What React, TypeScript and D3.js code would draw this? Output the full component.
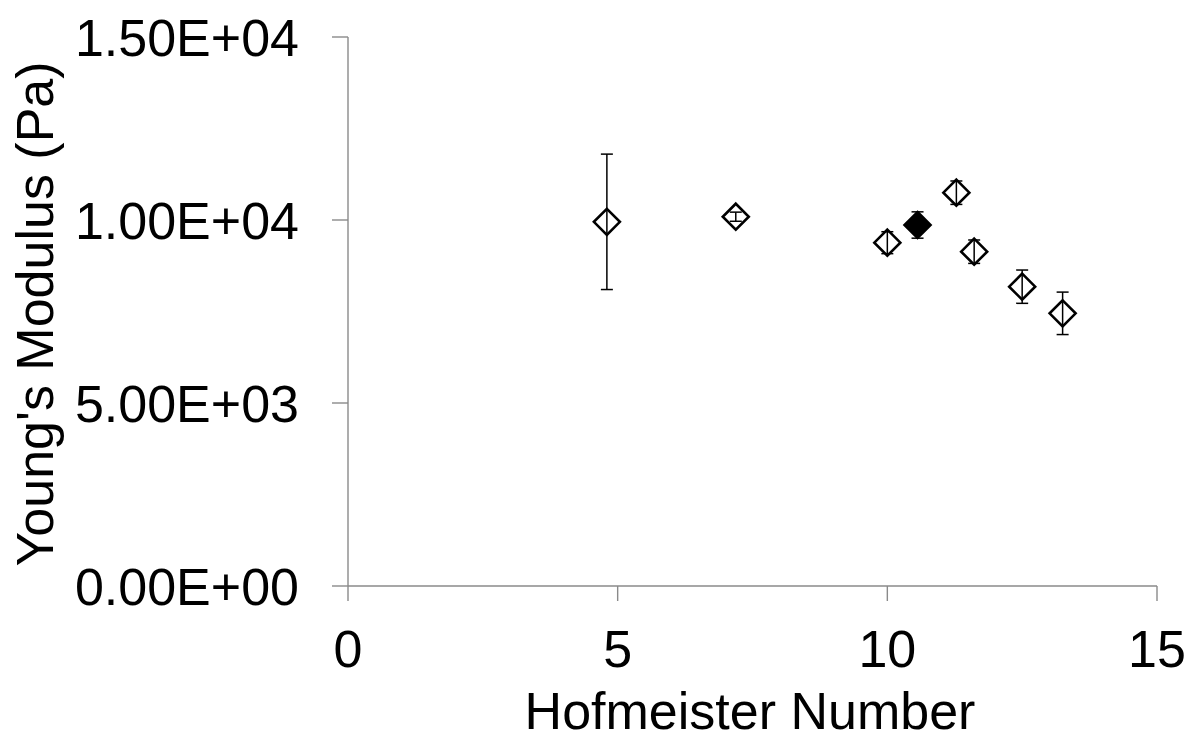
import React from "react";
import * as d3 from "d3";

// Hofmeister number vs. Young's modulus, open diamonds with one filled point
const hofmeister = [4.8, 7.19, 10.0, 11.28, 11.61, 12.5, 13.25];
const modulus = [9950, 10090, 9380, 10746, 9134, 8178, 7450];
const modulusErr = [1850, 125, 300, 320, 320, 455, 580];

const filledHofmeister = [10.56];
const filledModulus = [9863];
const filledErr = [360];

const xTicks = [0, 5, 10, 15];
const yTicks = [0, 5000, 10000, 15000];
const yTickLabels = ["0.00E+00", "5.00E+03", "1.00E+04", "1.50E+04"];

const W = 1191;
const H = 740;
const FONT = "'Liberation Sans', Arial, sans-serif";
const FS = 52;

export default function App() {
  const x = d3.scaleLinear().domain([0, 15]).range([348, 1157]);
  const y = d3.scaleLinear().domain([0, 15000]).range([586, 37]);
  const axisColor = "#8a8a8a";
  const half = 13;
  const cap = 6;

  const diamond = (cx: number, cy: number) =>
    `M${cx},${cy - half}L${cx + half},${cy}L${cx},${cy + half}L${cx - half},${cy}Z`;

  const points = [
    ...hofmeister.map((h, i) => ({ h, m: modulus[i], e: modulusErr[i], filled: false })),
    ...filledHofmeister.map((h, i) => ({ h, m: filledModulus[i], e: filledErr[i], filled: true })),
  ];

  return (
    <svg
      width={W}
      height={H}
      style={{ position: "absolute", left: 0, top: 0, background: "#fff" }}
      fontFamily={FONT}
    >
      {/* axes */}
      <line x1={x(0)} x2={x(0)} y1={y(15000)} y2={y(0)} stroke={axisColor} strokeWidth={1.4} />
      <line x1={x(0)} x2={x(15)} y1={y(0)} y2={y(0)} stroke={axisColor} strokeWidth={1.4} />
      {yTicks.map((t, i) => (
        <g key={"y" + t}>
          <line x1={x(0) - 16} x2={x(0)} y1={y(t)} y2={y(t)} stroke={axisColor} strokeWidth={1.4} />
          <text x={299} y={y(t) + 18.5} textAnchor="end" fontSize={FS} fill="#000">
            {yTickLabels[i]}
          </text>
        </g>
      ))}
      {xTicks.map((t) => (
        <g key={"x" + t}>
          <line x1={x(t)} x2={x(t)} y1={y(0)} y2={y(0) + 15} stroke={axisColor} strokeWidth={1.4} />
          <text x={x(t)} y={667} textAnchor="middle" fontSize={FS} fill="#000">
            {t}
          </text>
        </g>
      ))}

      {/* axis titles */}
      <text x={750} y={729} textAnchor="middle" fontSize={FS} fill="#000">
        Hofmeister Number
      </text>
      <text
        transform={`translate(53, 314) rotate(-90)`}
        textAnchor="middle"
        fontSize={FS}
        fill="#000"
      >
        Young's Modulus (Pa)
      </text>

      {/* markers */}
      {points.map((p, i) => (
        <path
          key={"m" + i}
          d={diamond(x(p.h), y(p.m))}
          fill={p.filled ? "#000" : "#fff"}
          stroke="#000"
          strokeWidth={2.6}
          strokeLinejoin="miter"
        />
      ))}

      {/* error bars */}
      {points.map((p, i) => {
        const cx = x(p.h);
        const top = y(p.m + p.e);
        const bot = y(p.m - p.e);
        return (
          <g key={"e" + i} stroke="#000" strokeWidth={1.5}>
            <line x1={cx} x2={cx} y1={top} y2={bot} />
            <line x1={cx - cap} x2={cx + cap} y1={top} y2={top} />
            <line x1={cx - cap} x2={cx + cap} y1={bot} y2={bot} />
          </g>
        );
      })}
    </svg>
  );
}
